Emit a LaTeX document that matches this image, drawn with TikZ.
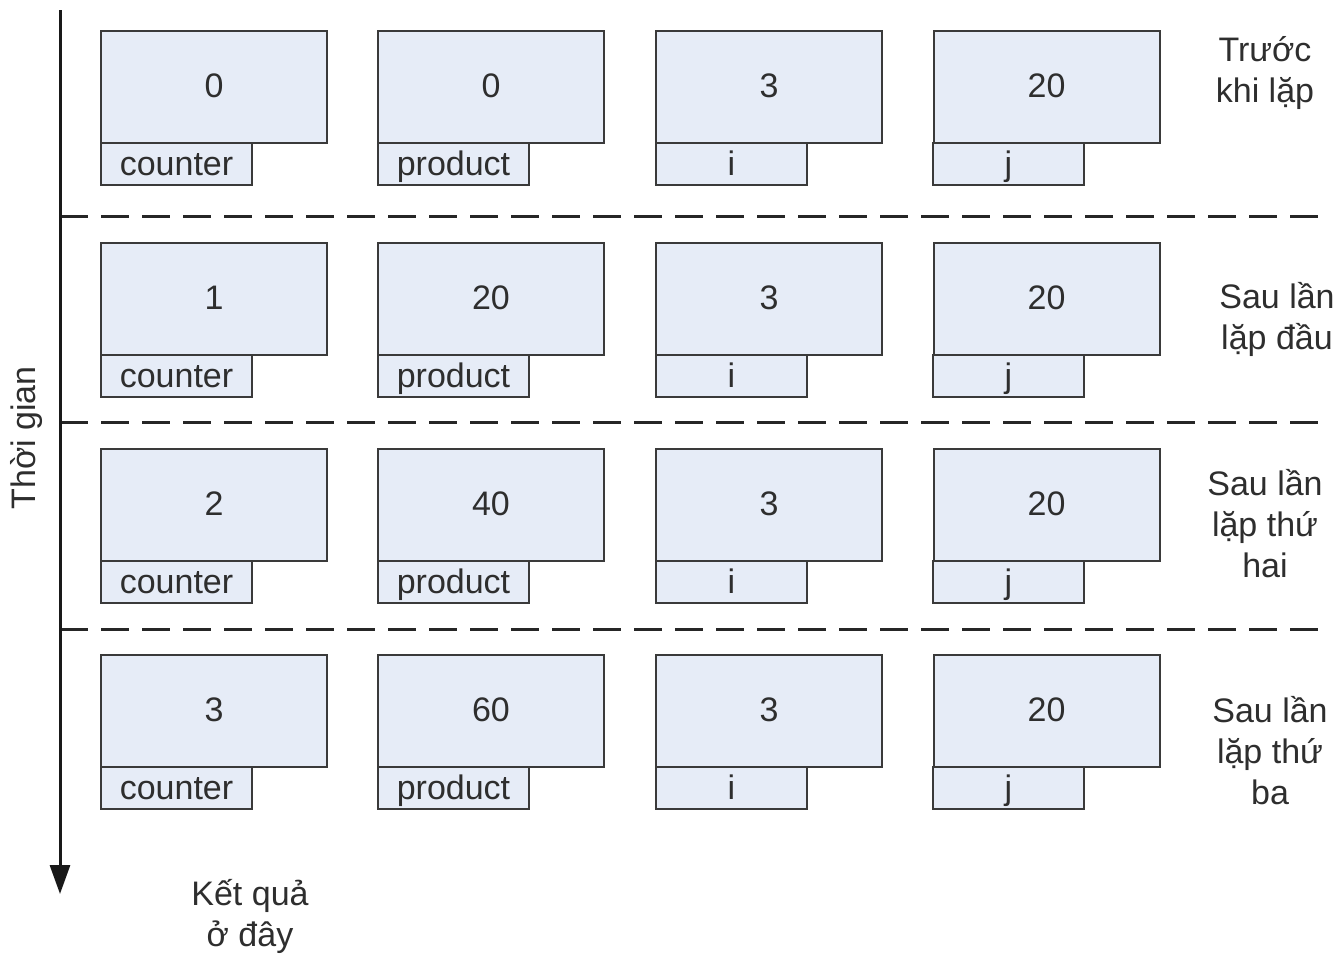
\documentclass[tikz,border=0pt]{standalone}
\usepackage{fontspec}
\setmainfont{Liberation Sans}
\usetikzlibrary{arrows.meta}
\definecolor{boxfill}{HTML}{E6ECF7}
\definecolor{boxline}{HTML}{3A3A3A}
\definecolor{txt}{HTML}{2E2E2E}
\begin{document}
\begin{tikzpicture}[x=1pt,y=-1pt,
  every node/.style={font=\fontsize{34}{41}\selectfont, text=txt},
  valbox/.style={draw=boxline, fill=boxfill, line width=2pt, minimum width=226pt, minimum height=112pt, inner sep=0pt, text height=25pt, text depth=4pt},
  namebox/.style={draw=boxline, fill=boxfill, line width=2pt, minimum width=151pt, minimum height=42pt, inner sep=0pt, text height=28pt, text depth=5pt},
  sep/.style={line width=3pt, draw=black!85, dash pattern=on 28pt off 13pt},
  side/.style={align=center, inner sep=0pt}
]
\useasboundingbox (0,0) rectangle (1339,954);

% rows: top y values
\foreach \r/\top/\a/\b/\c/\d in {1/31/0/0/3/20, 2/243/1/20/3/20, 3/449/2/40/3/20, 4/655/3/60/3/20}{
  \node[namebox] (n\r a) at (176.5,\top+133) {counter};
  \node[namebox] (n\r b) at (453.5,\top+133) {product};
  \node[namebox] (n\r c) at (731.5,\top+133) {i};
  \node[namebox] (n\r d) at (1008.5,\top+133) {j};
  \node[valbox] (v\r a) at (214,\top+56) {\a};
  \node[valbox] (v\r b) at (491,\top+56) {\b};
  \node[valbox] (v\r c) at (769,\top+56) {\c};
  \node[valbox] (v\r d) at (1046.5,\top+56) {\d};
}

% dashed separators
\coordinate (s1l) at (60,216);  \coordinate (s1r) at (1325,216);
\coordinate (s2l) at (60,422);  \coordinate (s2r) at (1325,422);
\coordinate (s3l) at (60,629);  \coordinate (s3r) at (1325,629);
\draw[sep] (s1l) -- (s1r);
\draw[sep] (s2l) -- (s2r);
\draw[sep] (s3l) -- (s3r);

% time axis
\coordinate (ttop) at (60,10);
\coordinate (tbot) at (60,894);
\draw[line width=3pt, black!90, -{Triangle[width=20pt,length=29pt]}] (ttop) -- (tbot);
\node[rotate=90, inner sep=0pt] (tg) at (27,438) {Thời gian};

% side labels
\node[side] (l1) at (1265,73) {Trước\\khi lặp};
\node[side] (l2) at (1277,319) {Sau lần\\lặp đầu};
\node[side] (l3) at (1265,524) {Sau lần\\lặp thứ\\hai};
\node[side] (l4) at (1270,751) {Sau lần\\lặp thứ\\ba};
\node[side] (kq) at (250,916) {Kết quả\\ở đây};
\end{tikzpicture}
\end{document}
